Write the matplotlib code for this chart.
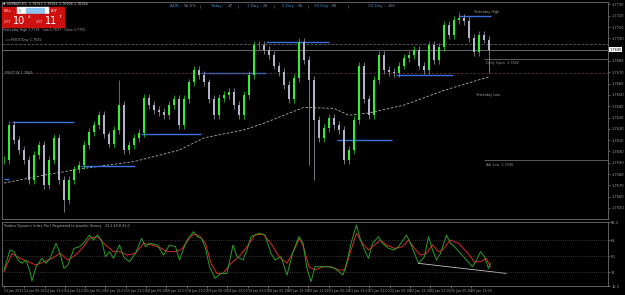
import numpy as np
import matplotlib
matplotlib.use("Agg")
import matplotlib.pyplot as plt
from matplotlib.patches import Rectangle

# precio de cierre (velas de 2 horas aprox.)
closes = [1.7592, 1.7623, 1.7610, 1.7601, 1.7592, 1.7575, 1.7597, 1.7606, 1.7570, 1.7592,
          1.7612, 1.7575, 1.7557, 1.7575, 1.7584, 1.7588, 1.7606, 1.7617, 1.7623, 1.7632,
          1.7615, 1.7607, 1.7619, 1.7641, 1.7601, 1.7606, 1.7612, 1.7616, 1.7647, 1.7641,
          1.7637, 1.7635, 1.7632, 1.7641, 1.7646, 1.7623, 1.7646, 1.7661, 1.7672, 1.7668,
          1.7661, 1.7646, 1.7632, 1.7647, 1.7650, 1.7653, 1.7641, 1.7632, 1.7650, 1.7668,
          1.7694, 1.7694, 1.7690, 1.7685, 1.7676, 1.7670, 1.7659, 1.7646, 1.7665, 1.7697,
          1.7681, 1.7663, 1.7628, 1.7612, 1.7621, 1.7630, 1.7623, 1.7619, 1.7592, 1.7601,
          1.7628, 1.7676, 1.7646, 1.7632, 1.7663, 1.7685, 1.7672, 1.7670, 1.7669, 1.7676,
          1.7683, 1.7685, 1.7690, 1.7676, 1.7672, 1.7694, 1.7681, 1.7692, 1.7712, 1.7703,
          1.7716, 1.7718, 1.7715, 1.7700, 1.7688, 1.7703, 1.7699, 1.7690]
# mechas largas visibles
spike_idx = [12, 23, 61, 62, 91, 97]
spike_price = [1.7546, 1.7663, 1.7588, 1.7575, 1.7723, 1.7669]

# media movil (linea discontinua)
ma_idx = [0, 8, 16, 26, 35, 40, 48, 52, 60, 66, 69, 73, 80, 88, 97]
ma_price = [1.7572, 1.7579, 1.7585, 1.7591, 1.7601, 1.7612, 1.7619, 1.7625, 1.7639,
            1.7638, 1.7632, 1.7634, 1.7641, 1.7654, 1.7666]

# niveles azules
seg_start = [0, 1.6, 15.4, 27.4, 39.4, 52.4, 66.6, 78.4, 91.0]
seg_end = [1.0, 14.0, 26.2, 39.4, 52.4, 65.0, 77.6, 89.8, 97.4]
seg_price = [1.7576, 1.7626, 1.7587, 1.7615, 1.7669, 1.7697, 1.7610, 1.7668, 1.7720]

price_ticks = [1.7730 - 0.001 * k for k in range(19)]

# TDI
green_idx = [0, 1.2, 2.0, 2.8, 3.6, 4.4, 5.2, 5.6, 6.4, 7.6, 8.4, 9.2, 10.4, 11.2, 12.0, 12.8,
             14.0, 15.1, 15.9, 17.1, 17.9, 18.7, 19.5, 20.3, 21.1, 21.9, 23.1, 23.9, 25.1,
             26.3, 27.5, 28.3, 29.1, 30.7, 31.9, 33.1, 34.3, 35.1, 36.3, 37.1, 37.9, 38.7,
             39.5, 40.3, 41.1, 42.2, 43.4, 44.6, 45.8, 46.6, 47.8, 48.6, 49.4, 51.0, 52.2,
             53.4, 54.2, 55.4, 56.6, 57.8, 59.0, 59.8, 60.6, 61.4, 62.2, 63.0, 64.2, 65.0,
             66.2, 67.8, 68.6, 69.4, 70.5, 71.3, 72.1, 72.9, 73.7, 74.9, 75.7, 76.9, 78.1,
             78.9, 80.5, 81.3, 82.1, 82.9, 84.1, 84.9, 85.7, 86.5, 87.3, 88.5, 89.3, 90.1,
             91.3, 92.5, 93.7, 94.5, 95.3, 96.1, 96.9, 97.3]
green_val = [34.3, 56.8, 54.9, 45.5, 41.8, 45.5, 32.4, 21.9, 38.0, 47.4, 41.8, 47.4, 64.3, 53.0,
             36.1, 39.9, 58.6, 60.5, 64.3, 73.6, 68.0, 73.6, 68.0, 49.3, 54.9, 47.4, 62.4, 49.3,
             43.6, 53.0, 69.9, 60.5, 64.3, 62.4, 51.1, 62.4, 60.5, 45.5, 64.3, 71.8, 77.4, 71.8,
             69.9, 58.6, 38.0, 24.9, 30.5, 30.5, 62.4, 49.3, 45.5, 56.8, 71.8, 75.5, 73.6, 53.0,
             45.5, 49.3, 28.6, 54.9, 71.8, 64.3, 36.1, 21.1, 38.0, 38.0, 38.0, 38.0, 36.1, 28.6,
             43.6, 64.3, 84.9, 68.0, 56.8, 47.4, 64.3, 71.8, 64.3, 58.6, 56.8, 60.5, 73.6, 64.3,
             53.0, 41.8, 49.3, 71.8, 56.8, 45.5, 53.0, 73.6, 64.3, 60.5, 53.0, 45.5, 38.0, 45.5,
             54.9, 49.3, 36.1, 41.8]
red_idx = [0, 1.6, 3.2, 4.8, 6.4, 8.0, 9.6, 11.2, 12.8, 14.3, 15.9, 17.1, 18.7, 20.3, 21.9,
           23.1, 24.7, 26.3, 27.9, 29.5, 31.1, 32.7, 34.3, 35.5, 37.1, 37.9, 39.1, 40.3, 41.4,
           42.6, 43.8, 45.4, 47.0, 48.6, 50.2, 51.8, 53.4, 55.0, 56.6, 58.2, 59.1, 59.9, 61.0,
           62.2, 63.8, 65.4, 67.0, 68.2, 69.4, 70.5, 71.7, 72.9, 74.1, 75.3, 76.5, 78.1, 79.7,
           80.9, 82.1, 83.3, 84.5, 85.7, 86.9, 87.7, 89.3, 90.9, 92.5, 94.1, 95.3, 96.4, 97.3]
red_val = [32.4, 53.0, 47.4, 43.6, 39.9, 43.6, 47.4, 53.0, 45.5, 51.1, 60.5, 69.9, 71.8, 62.4,
           54.9, 54.9, 51.1, 53.0, 64.3, 62.4, 59.8, 54.9, 54.9, 57.5, 69.9, 74.8, 72.5, 64.3,
           41.8, 30.5, 30.5, 41.8, 49.3, 60.5, 73.6, 74.8, 64.3, 49.3, 41.8, 58.6, 69.9, 60.5,
           38.0, 34.3, 38.0, 38.0, 34.3, 34.3, 56.8, 75.5, 64.3, 56.8, 62.4, 68.0, 62.4, 58.6,
           60.5, 68.0, 58.6, 51.1, 53.0, 62.4, 54.9, 56.8, 68.0, 64.3, 54.9, 43.6, 43.6, 47.4, 38.0]
trend_idx = [82.9, 100.4]
trend_val = [41.8, 30.5]

date_labels = ["13 Jan 2021", "14 Jan 05:00", "14 Jan 13:00", "14 Jan 21:00", "15 Jan 05:00",
               "15 Jan 13:00", "15 Jan 21:00", "18 Jan 05:00", "18 Jan 13:00", "18 Jan 21:00",
               "19 Jan 05:00", "19 Jan 13:00", "19 Jan 21:00", "20 Jan 05:00", "20 Jan 13:00",
               "20 Jan 21:00", "21 Jan 05:00", "21 Jan 13:00", "21 Jan 21:00", "22 Jan 05:00",
               "22 Jan 13:00", "22 Jan 21:00", "25 Jan 05:00", "25 Jan 13:00"]

W, H = 625, 295
fig = plt.figure(figsize=(W / 100, H / 100), dpi=100, facecolor="black")

def fx(x):
    return x / W

def fy(y):
    return 1 - y / H

axis_col = "#a0a0a0"
ax = fig.add_axes([fx(2), fy(219), fx(606), 217 / H], facecolor="black")
ax2 = fig.add_axes([fx(2), fy(286), fx(606), 64 / H], facecolor="black")

for a in (ax, ax2):
    for s in a.spines.values():
        s.set_color("#707070")
        s.set_linewidth(0.6)
    a.set_xlim(-0.4, 120.8)
    a.yaxis.tick_right()
    a.tick_params(colors=axis_col, labelsize=2.6, length=1.5, width=0.4, pad=0.8)

# velas
opens = [closes[0]] + closes[:-1]
wick = 0.00035
for i, (o, c) in enumerate(zip(opens, closes)):
    col = "#30f030" if c >= o else "#b4b4c8"
    hi = max(o, c) + wick
    lo = min(o, c) - wick
    if i in spike_idx:
        p = spike_price[spike_idx.index(i)]
        hi = max(hi, p)
        lo = min(lo, p)
    ax.vlines(i, lo, hi, color=col, lw=0.45, zorder=3)
    ax.bar(i, max(abs(c - o), 0.00005), bottom=min(o, c), width=0.5, color=col, zorder=3)

ax.plot(ma_idx, ma_price, color="#b0b0b0", lw=0.6, ls=(0, (3, 2)), zorder=2)
ax.hlines(seg_price, seg_start, seg_end, color="#3a6fe0", lw=1.0, zorder=2)

# lineas horizontales
ax.axhline(1.7695, color="#707070", lw=0.5, ls=(0, (4, 2)))
ax.axhline(closes[-1], color="#909090", lw=0.5)
ax.axhline(1.7669, color="#6a3a3a", lw=0.5, ls=(0, (4, 2)))
ax.hlines([1.7682, 1.7592], 96, 120.8, color="#808080", lw=0.5)
ax.text(0.2, 1.7697, "==PIVOT/Day 1.7695", color="#a0a0a0", fontsize=2.4, va="bottom")
ax.text(0.2, 1.7669, "PIVOT W 1.7669", color="#a0a0a0", fontsize=2.4, va="center")
ax.text(94, 1.7722, "Yesterday High", color="#a0a0a0", fontsize=2.4, va="bottom")
ax.text(94.5, 1.7652, "Yesterday Low", color="#a0a0a0", fontsize=2.4, va="top")
ax.text(96.5, 1.7680, "Daily Open  1.7682", color="#909090", fontsize=2.4, va="top")
ax.text(96.5, 1.7590, "Adr Low  1.7596", color="#909090", fontsize=2.4, va="top")

ax.set_ylim(1.75402, 1.77322)
ax.set_yticks(price_ticks)
# la etiqueta tapada por la caja del precio actual se deja vacia
ax.set_yticklabels(["" if abs(p - closes[-1]) < 0.0005 else "%.4f" % p for p in price_ticks])
ax.set_xticks([])
ax.text(1.002, closes[-1], "%.4f" % closes[-1], transform=ax.get_yaxis_transform(),
        fontsize=2.5, color="black", va="center", zorder=5,
        bbox=dict(boxstyle="square,pad=0.15", fc="white", ec="none"))

# TDI
ax2.plot(red_idx, red_val, color="#e02828", lw=0.7)
ax2.plot(green_idx, green_val, color="#28a028", lw=0.7)
ax2.plot(trend_idx, trend_val, color="#c0c0c0", lw=0.6)
for lvl in (68, 50, 32):
    ax2.axhline(lvl, color="#606060", lw=0.5, ls=(0, (1, 2)))
ax2.set_ylim(16.3, 88.3)
ax2.set_yticks([16.3, 32, 50, 68, 88.3])
ax2.set_yticklabels(["16.3", "32", "50", "68", "88.3"])
ax2.set_xticks(np.arange(len(date_labels)) * 4.06)
ax2.set_xticklabels(date_labels, ha="left", fontsize=2.3)
ax2.text(0.003, 0.97, "Traders Dynamic Index Pro | Registered to Jennifer Stacey   33.2 40.8 41.0",
         transform=ax2.transAxes, color="#b0b0b0", fontsize=2.4, va="top")

# cabecera
fig.text(fx(3), fy(4), "\u25bc GBPAUD,H1  1.76912 1.76941 1.76904 1.76924",
         color="#d0d0d0", fontsize=2.4, va="center")
parts = [(170, "ADR :", "#3a8fd8"), (184, "55.5%", "#8090a0"), (200, "|", "#8090a0"),
         (210, "Today :", "#3a8fd8"), (228, "37", "#8090a0"), (237, "|", "#8090a0"),
         (247, "1 Day :", "#3a8fd8"), (263, "23", "#8090a0"), (273, "|", "#8090a0"),
         (282, "5 Day :", "#3a8fd8"), (298, "55", "#8090a0"), (308, "|", "#8090a0"),
         (314, "10 Day :", "#3a8fd8"), (332, "83", "#8090a0"), (348, "|", "#8090a0"),
         (368, "20 Day :", "#3a8fd8"), (388, "100", "#8090a0")]
for x, t, c in parts:
    fig.text(fx(x), fy(6), t, color=c, fontsize=3.0, va="center")

# panel de operaciones
red = "#cc1010"
fig.patches.append(Rectangle((fx(2), fy(14)), fx(15), 7 / H, color=red, transform=fig.transFigure))
fig.patches.append(Rectangle((fx(48), fy(14)), fx(16), 7 / H, color=red, transform=fig.transFigure))
fig.patches.append(Rectangle((fx(17), fy(14)), fx(31), 7 / H, color="white", transform=fig.transFigure))
fig.patches.append(Rectangle((fx(26), fy(13)), fx(18), 5 / H, color="#8cc6f0", transform=fig.transFigure))
fig.patches.append(Rectangle((fx(2), fy(27)), fx(32), 13 / H, color=red, transform=fig.transFigure))
fig.patches.append(Rectangle((fx(35), fy(27)), fx(29), 13 / H, color=red, transform=fig.transFigure))
fig.text(fx(4), fy(10.5), "SELL", color="white", fontsize=2.3, va="center")
fig.text(fx(51), fy(10.5), "BUY", color="white", fontsize=2.3, va="center")
fig.text(fx(19), fy(10.5), "1", color="black", fontsize=2.3, va="center")
fig.text(fx(4), fy(22), "1.77", color="white", fontsize=2.3, va="center")
fig.text(fx(13), fy(21), "10", color="white", fontsize=7, va="center")
fig.text(fx(28), fy(17.5), "4", color="white", fontsize=3.2, va="center")
fig.text(fx(36), fy(22), "1.77", color="white", fontsize=2.3, va="center")
fig.text(fx(45), fy(21), "11", color="white", fontsize=7, va="center")
fig.text(fx(59), fy(17.5), "7", color="white", fontsize=3.2, va="center")
fig.text(fx(3), fy(30), "Yesterday High 1.7718   Low 1.7637   Close 1.7700",
         color="#a0a0a0", fontsize=2.3, va="center")

fig.savefig("out.png", dpi=100, facecolor="black")
